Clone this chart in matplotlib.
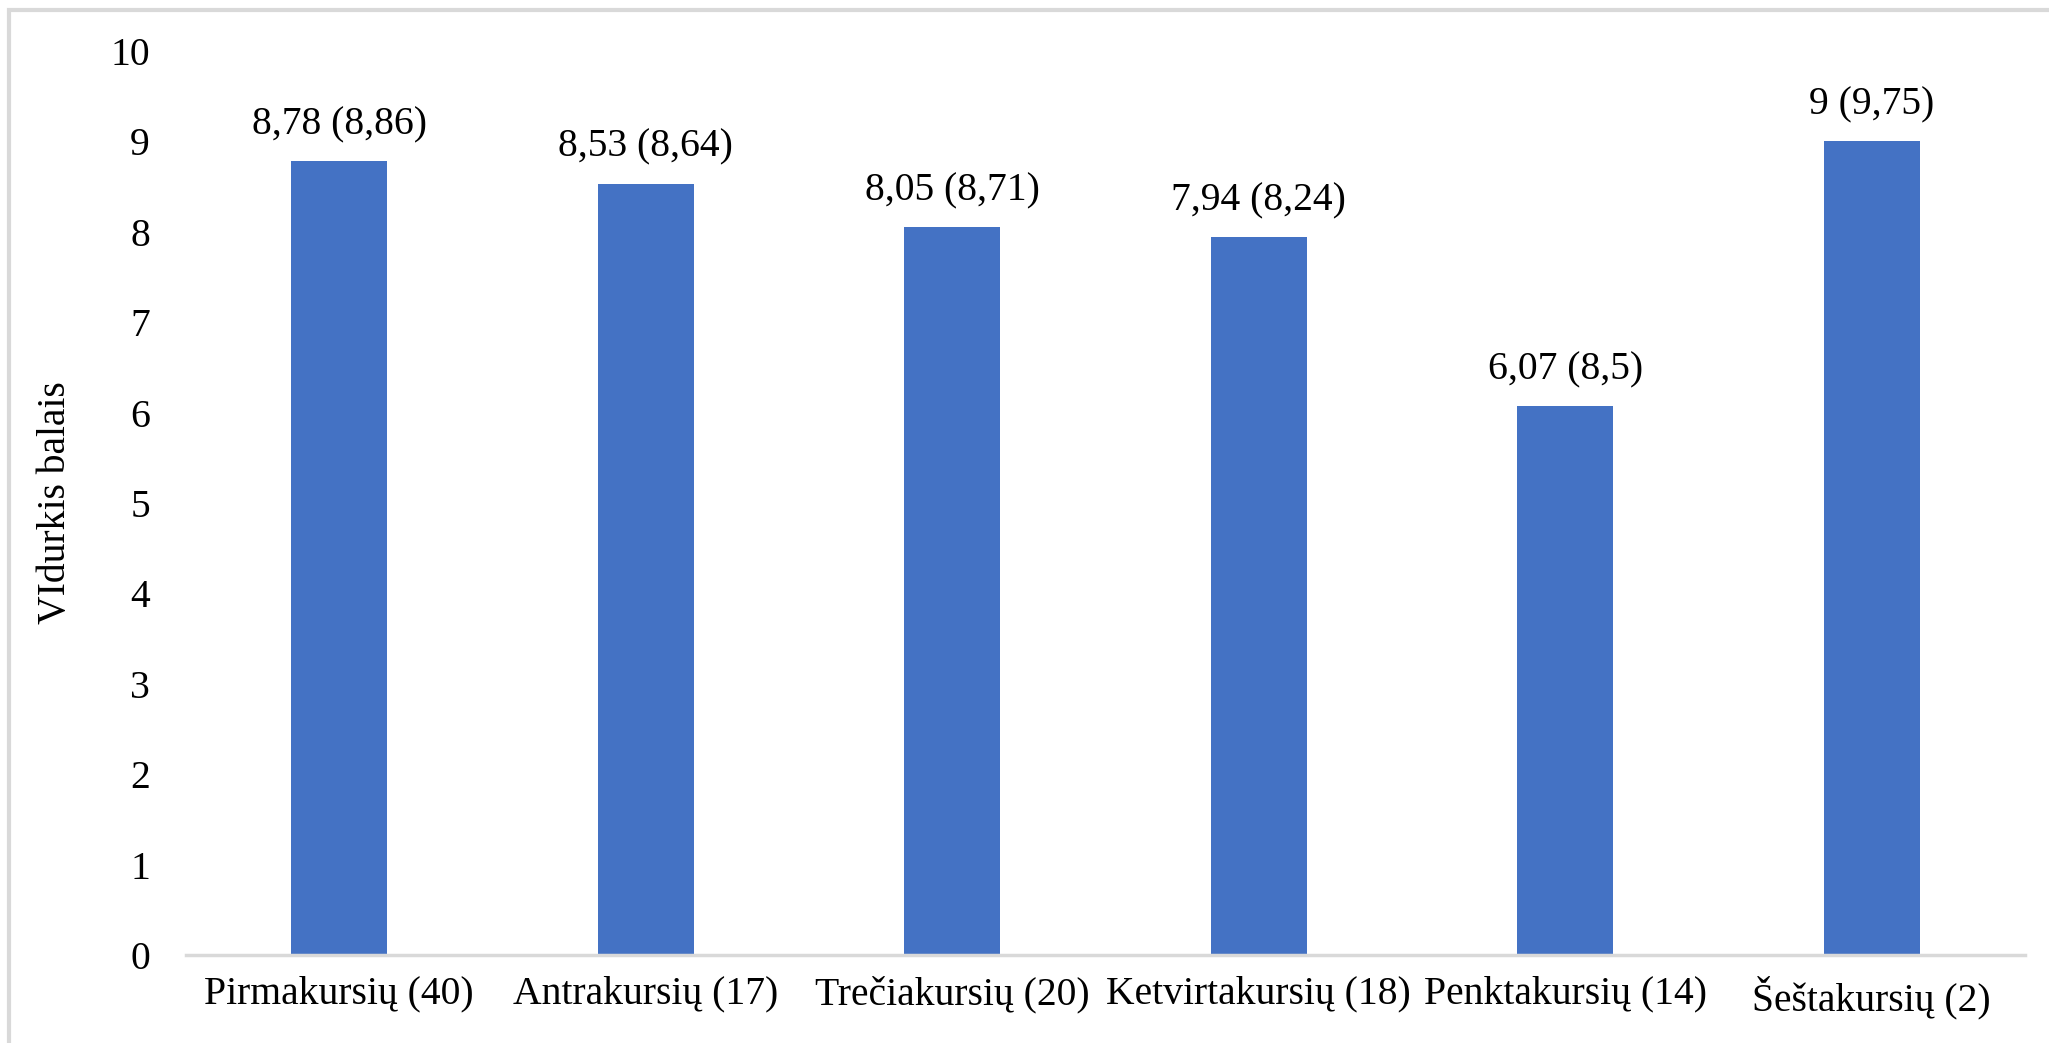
import matplotlib.pyplot as plt
from matplotlib.patches import Rectangle

# Daten
kursai = ["Pirmakursių (40)", "Antrakursių (17)", "Trečiakursių (20)",
          "Ketvirtakursių (18)", "Penktakursių (14)", "Šeštakursių (2)"]
vidurkis = [8.78, 8.53, 8.05, 7.94, 6.07, 9.0]
etiketes = ["8,78 (8,86)", "8,53 (8,64)", "8,05 (8,71)",
            "7,94 (8,24)", "6,07 (8,5)", "9 (9,75)"]
y_ticks = [0, 1, 2, 3, 4, 5, 6, 7, 8, 9, 10]

plt.rcParams['font.family'] = ['Liberation Serif', 'DejaVu Serif']

W, H = 2049, 1043
fig = plt.figure(figsize=(W / 100, H / 100), dpi=100)
ax = fig.add_axes([186 / W, 1 - 955 / H, (2025 - 186) / W, (955 - 51) / H])

x = list(range(len(kursai)))
ax.bar(x, vidurkis, width=0.313, color='#4472C4', zorder=2)

for xi, v, t in zip(x, vidurkis, etiketes):
    ax.annotate(t, (xi, v), xytext=(0, 13), textcoords='offset points',
                ha='center', va='bottom', fontsize=28.5, color='#000000')

ax.set_xlim(-0.5, len(kursai) - 0.5)
ax.set_ylim(0, 10)
ax.set_yticks(y_ticks)
ax.set_yticklabels([str(t) for t in y_ticks], fontsize=28.5)
ax.set_xticks(x)
ax.set_xticklabels(kursai, fontsize=28.5)
ax.tick_params(axis='both', length=0)
ax.tick_params(axis='y', pad=26)
ax.tick_params(axis='x', pad=15)
ax.set_ylabel('VIdurkis balais', fontsize=28.5, labelpad=26)

for s in ['top', 'right', 'left']:
    ax.spines[s].set_visible(False)
ax.spines['bottom'].set_color('#D9D9D9')
ax.spines['bottom'].set_linewidth(2.5)

# Rahmen (nur links und oben sichtbar)
fig.patches.append(Rectangle((9 / W, -0.1), 1.2, 1 - 10 / H + 0.1,
                             transform=fig.transFigure, fill=False,
                             edgecolor='#D9D9D9', linewidth=3))

fig.savefig('out.png', dpi=100)
